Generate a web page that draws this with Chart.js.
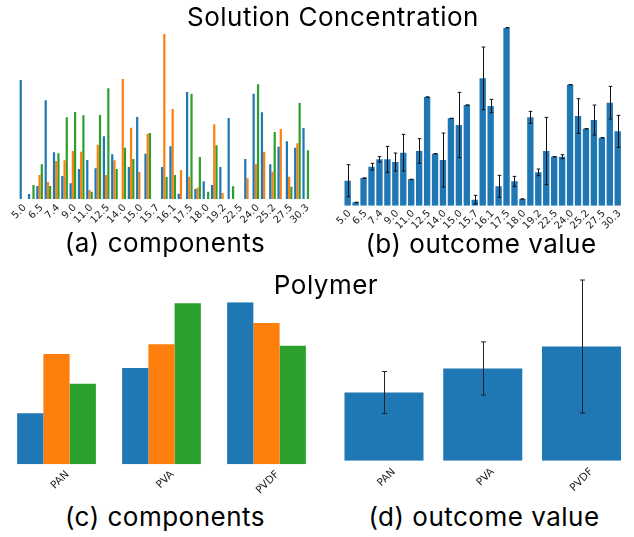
<!DOCTYPE html>
<html lang="en">

<head>
    <meta charset="UTF-8">
    <title>Solution Concentration / Polymer</title>
    <script src="https://cdn.jsdelivr.net/npm/chart.js"></script>
    <style>
        body {
            margin: 0;
            background: #fff;
        }

        .figure {
            position: relative;
            width: 634px;
            height: 537px;
            overflow: hidden;
        }

        .figure canvas {
            position: absolute;
        }

        .caption {
            position: absolute;
            font-family: "Inter", "Open Sans", sans-serif;
            font-size: 26px;
            letter-spacing: 0.5px;
            line-height: 1;
            color: #000;
            white-space: nowrap;
            transform: translateX(-50%);
            z-index: 2;
        }
    </style>
</head>

<body>
    <div class="figure">
        <div class="caption" style="left:333px; top:4px;">Solution Concentration</div>
        <div class="caption" style="left:165px; top:230px;">(a) components</div>
        <div class="caption" style="left:481px; top:231px;">(b) outcome value</div>
        <div class="caption" style="left:326px; top:272px;">Polymer</div>
        <div class="caption" style="left:165px; top:504px;">(c) components</div>
        <div class="caption" style="left:484px; top:504px;">(d) outcome value</div>

        <canvas id="chartA" width="320" height="215" style="left:0; top:20px;"></canvas>
        <canvas id="chartB" width="314" height="215" style="left:320px; top:20px;"></canvas>
        <canvas id="chartC" width="320" height="200" style="left:0; top:295px;"></canvas>
        <canvas id="chartD" width="314" height="220" style="left:320px; top:275px;"></canvas>
    </div>

    <script>
        // solution concentration categories (only every other one is labelled)
        var concentrations = ['5.0', '5.5', '6.5', '7.0', '7.4', '8.0', '9.0', '10.0', '11.0', '12.0',
            '12.5', '13.0', '14.0', '14.5', '15.0', '15.5', '15.7', '16.0', '16.1', '17.0',
            '17.5', '17.8', '18.0', '19.0', '19.2', '20.0', '22.5', '23.0', '24.0', '25.0',
            '25.2', '26.0', '27.5', '28.0', '30.3'];

        // (a) components per concentration
        var compBlue = [357, 15, 39, 296, 140, 69, 47, 90, 117, 92, 188, 134, 0, 96, 246, 136, 0, 96,
            158, 16, 321, 30, 53, 42, 96, 243, 0, 120, 316, 260, 104, 157, 173, 154, 213];
        var compOrange = [0, 0, 72, 51, 114, 116, 144, 142, 27, 163, 72, 116, 360, 214, 81, 196, 0, 495,
            270, 87, 67, 34, 0, 224, 18, 0, 0, 62, 104, 142, 82, 210, 67, 167, 0];
        var compGreen = [0, 42, 104, 39, 137, 245, 261, 251, 22, 252, 332, 90, 154, 120, 0, 198, 0, 66,
            72, 0, 316, 126, 22, 161, 0, 38, 0, 0, 344, 0, 201, 0, 37, 288, 146];

        // (b) outcome value per concentration, with error
        var outcome = [75, 10, 83, 117, 139, 139, 131, 159, 79, 164, 326, 156, 137, 262, 242, 302, 18, 382,
            299, 58, 534, 73, 20, 265, 100, 164, 147, 147, 363, 269, 231, 257, 204, 309, 223];
        var outcomeErr = [48, 0, 0, 10, 8, 39, 27, 55, 0, 37, 0, 0, 81, 0, 98, 0, 13, 94,
            20, 33, 0, 15, 0, 18, 10, 101, 0, 6, 0, 52, 0, 45, 0, 49, 48];

        // polymer
        var polymers = ['PAN', 'PVA', 'PVDF'];
        var polyBlue = [153, 289, 486];
        var polyOrange = [331, 360, 424];
        var polyGreen = [242, 483, 356];
        var polyOutcome = [205, 277, 343];
        var polyOutcomeErr = [63, 80, 200];

        var BLUE = '#1f77b4', ORANGE = '#ff7f0e', GREEN = '#2ca02c';

        // error bars drawn through the y scale
        var errorBars = {
            id: 'errorBars',
            afterDatasetsDraw: function (chart, args, opts) {
                var ctx = chart.ctx;
                var yScale = chart.scales.y;
                var values = chart.data.datasets[0].data;
                var meta = chart.getDatasetMeta(0);
                ctx.save();
                ctx.strokeStyle = opts.color || '#000';
                ctx.lineWidth = opts.width || 1;
                meta.data.forEach(function (bar, i) {
                    var e = opts.errors[i];
                    if (e === null || e === undefined) return;
                    var x = Math.round(bar.x) + 0.5;
                    var top = yScale.getPixelForValue(values[i] + e);
                    var bottom = yScale.getPixelForValue(values[i] - e);
                    var cap = opts.cap;
                    ctx.beginPath();
                    ctx.moveTo(x, top);
                    ctx.lineTo(x, bottom);
                    ctx.moveTo(x - cap, top);
                    ctx.lineTo(x + cap, top);
                    ctx.moveTo(x - cap, bottom);
                    ctx.lineTo(x + cap, bottom);
                    ctx.stroke();
                });
                ctx.restore();
            }
        };

        function barOptions(pad, axisHeight, ymax, tickFont, labelOffset, tickPad, everyOther) {
            return {
                responsive: false,
                animation: false,
                devicePixelRatio: 1,
                layout: { padding: pad },
                plugins: {
                    legend: { display: false },
                    tooltip: { enabled: false }
                },
                scales: {
                    x: {
                        grid: { display: false, drawTicks: false },
                        border: { display: false },
                        ticks: {
                            autoSkip: false,
                            minRotation: 45,
                            maxRotation: 45,
                            padding: tickPad,
                            labelOffset: labelOffset,
                            color: '#222',
                            font: { family: 'DejaVu Sans', size: tickFont },
                            callback: function (value, index) {
                                if (everyOther && index % 2 !== 0) return '';
                                return this.getLabelForValue(value);
                            }
                        },
                        afterFit: function (scale) {
                            scale.height = axisHeight;
                            scale.paddingLeft = 0;
                            scale.paddingRight = 0;
                        }
                    },
                    y: { display: false, min: 0, max: ymax }
                }
            };
        }

        document.addEventListener('DOMContentLoaded', function () {
            // (a) components
            new Chart(document.getElementById('chartA'), {
                type: 'bar',
                data: {
                    labels: concentrations,
                    datasets: [
                        { data: compBlue, backgroundColor: BLUE },
                        { data: compOrange, backgroundColor: ORANGE },
                        { data: compGreen, backgroundColor: GREEN }
                    ].map(function (d) {
                        d.borderWidth = 0;
                        d.categoryPercentage = 0.8;
                        d.barPercentage = 1.0;
                        return d;
                    })
                },
                options: barOptions({ left: 18.8, right: 10.1, top: 14, bottom: 0 }, 36, 495, 10, 2, 3, true)
            });

            // (b) outcome value
            var optB = barOptions({ left: 23.7, right: 12.3, top: 7.7, bottom: 0 }, 29.3, 534, 10, 2, 2, true);
            optB.plugins.errorBars = { errors: outcomeErr, cap: 1.8, width: 1, color: '#111' };
            new Chart(document.getElementById('chartB'), {
                type: 'bar',
                data: {
                    labels: concentrations,
                    datasets: [{
                        data: outcome, backgroundColor: BLUE, borderWidth: 0,
                        categoryPercentage: 1.0, barPercentage: 0.8
                    }]
                },
                options: optB,
                plugins: [errorBars]
            });

            // (c) components
            new Chart(document.getElementById('chartC'), {
                type: 'bar',
                data: {
                    labels: polymers,
                    datasets: [
                        { data: polyBlue, backgroundColor: BLUE },
                        { data: polyOrange, backgroundColor: ORANGE },
                        { data: polyGreen, backgroundColor: GREEN }
                    ].map(function (d) {
                        d.borderWidth = 0;
                        d.categoryPercentage = 0.75;
                        d.barPercentage = 1.0;
                        return d;
                    })
                },
                options: barOptions({ left: 4, right: 1, top: 7.3, bottom: 0 }, 30.7, 486, 10.5, 11, 4, false)
            });

            // (d) outcome value
            var optD = barOptions({ left: 14.6, right: 3.1, top: 5, bottom: 0 }, 34.3, 543, 10.5, 10, 5, false);
            optD.plugins.errorBars = { errors: polyOutcomeErr, cap: 2.5, width: 1, color: '#222' };
            new Chart(document.getElementById('chartD'), {
                type: 'bar',
                data: {
                    labels: polymers,
                    datasets: [{
                        data: polyOutcome, backgroundColor: BLUE, borderWidth: 0,
                        categoryPercentage: 1.0, barPercentage: 0.8
                    }]
                },
                options: optD,
                plugins: [errorBars]
            });
        });
    </script>
</body>

</html>
